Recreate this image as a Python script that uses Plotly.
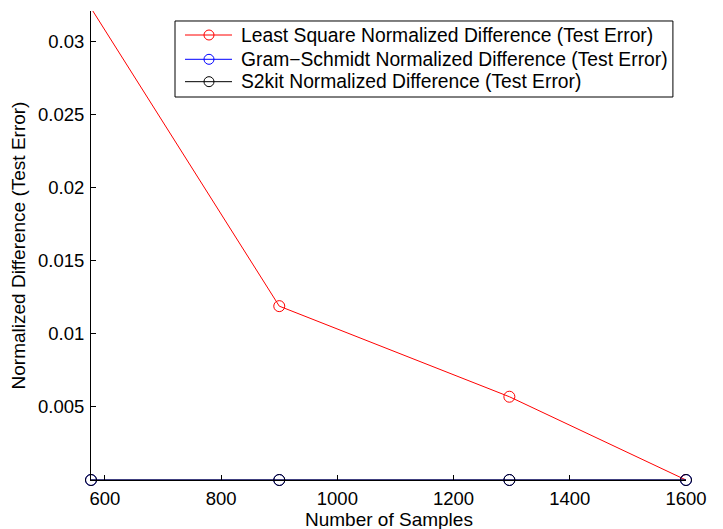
import plotly.graph_objects as go

samples = [576, 900, 1296, 1600]
least_square = [0.0323, 0.0119, 0.0057, 0.0]
gram_schmidt = [0.0, 0.0, 0.0, 0.0]
s2kit = [0.0, 0.0, 0.0, 0.0]

x_ticks = [600, 800, 1000, 1200, 1400, 1600]
y_ticks = [0.005, 0.01, 0.015, 0.02, 0.025, 0.03]
y_tick_text = ["0.005", "0.01", "0.015", "0.02", "0.025", "0.03"]

family = "Liberation Sans, Arial, Helvetica, sans-serif"
tick_font = dict(family=family, size=18.5, color="black")
title_font = dict(family=family, size=19, color="black")

names = [
    "Least Square Normalized Difference (Test Error)",
    "Gram\u2212Schmidt Normalized Difference (Test Error)",
    "S2kit Normalized Difference (Test Error)",
]
colors = ["#ff0000", "#0000ff", "#000000"]
values = [least_square, gram_schmidt, s2kit]
clips = [True, False, False]

fig = go.Figure()
for name, vals, color, clip in zip(names, values, colors, clips):
    fig.add_trace(go.Scatter(
        x=samples, y=vals, name=name, mode="lines+markers",
        line=dict(color=color, width=1),
        cliponaxis=clip, showlegend=False,
        marker=dict(symbol="circle-open", size=11, color=color, line=dict(width=1, color=color)),
    ))

# Legend drawn in paper coordinates (MATLAB-style box)
shapes = [dict(type="rect", xref="paper", yref="paper", x0=0.1412, x1=0.978, y0=0.8166, y1=0.9787,
               line=dict(color="black", width=1), fillcolor="white", layer="above")]
annotations = []
row_y = [0.9488, 0.8970, 0.8493]
for name, color, ry in zip(names, colors, row_y):
    shapes.append(dict(type="line", xref="paper", yref="paper", x0=0.158, x1=0.237, y0=ry, y1=ry,
                       line=dict(color=color, width=1), layer="above"))
    shapes.append(dict(type="circle", xref="paper", yref="paper", xsizemode="pixel", ysizemode="pixel",
                       xanchor=0.1983, yanchor=ry, x0=-5, x1=5, y0=-5, y1=5,
                       line=dict(color=color, width=1), layer="above"))
    annotations.append(dict(text=name, xref="paper", yref="paper", x=0.2487, y=ry,
                            xanchor="left", yanchor="middle", showarrow=False,
                            font=dict(family=family, size=19.3, color="black")))

# x-axis title placed just below the tick labels
annotations.append(dict(text="Number of Samples", xref="paper", yref="paper", x=0.5, y=0,
                        xanchor="center", yanchor="middle", yshift=-39, showarrow=False,
                        font=title_font))

fig.update_layout(
    width=715, height=521,
    margin=dict(l=83, r=37, t=3, b=49),
    paper_bgcolor="white", plot_bgcolor="white",
    font=tick_font,
    showlegend=False,
    shapes=shapes,
    annotations=annotations,
    xaxis=dict(
        range=[576, 1600], tickvals=x_ticks, ticks="inside", ticklen=5,
        tickcolor="black", showline=True, linecolor="black", linewidth=1,
        showgrid=False, zeroline=False, mirror=False, automargin=False,
        ticklabelstandoff=2,
        tickfont=tick_font,
    ),
    yaxis=dict(
        range=[0, 0.0321], tickvals=y_ticks, ticktext=y_tick_text, ticks="inside", ticklen=5,
        tickcolor="black", showline=True, linecolor="black", linewidth=1,
        showgrid=False, zeroline=False, mirror=False, automargin=False,
        ticklabelstandoff=2,
        title=dict(text="Normalized Difference (Test Error)", font=title_font, standoff=9),
        tickfont=tick_font,
    ),
)

fig.write_html("out.html")
